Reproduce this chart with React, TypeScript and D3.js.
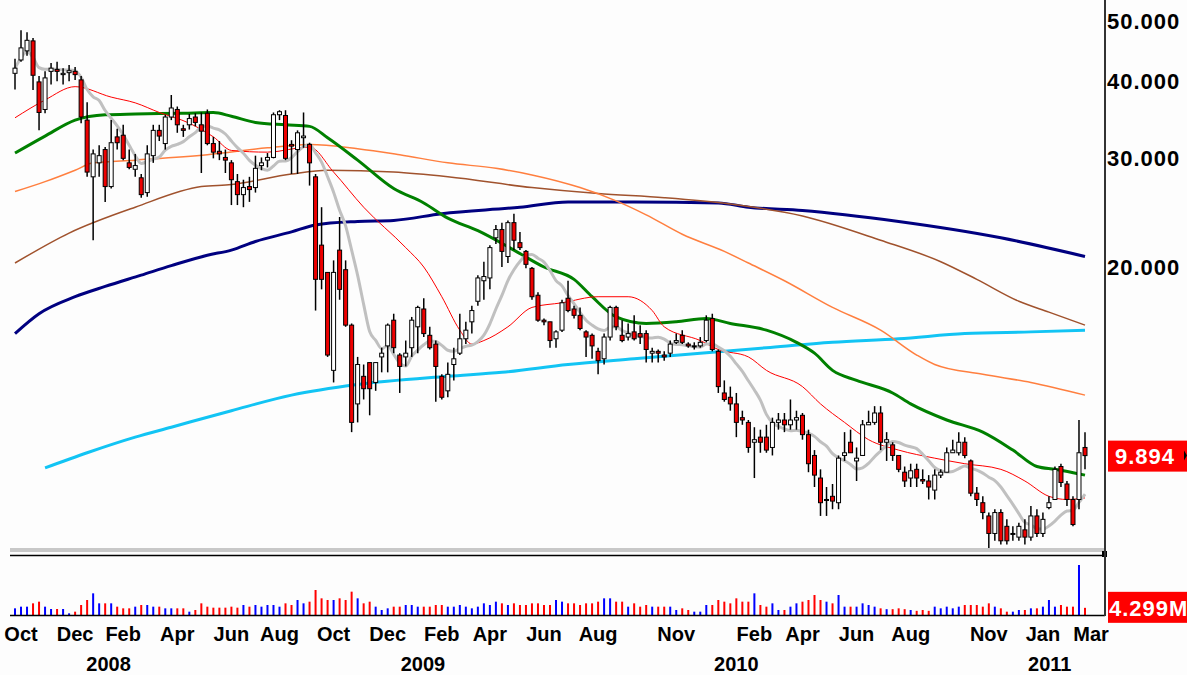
import * as d3 from 'd3'

const firstWeek = '2007-09-28'

// weekly OHLC
const opens = [
  41.2, 43.3, 44.8, 46.5, 39.9, 36.0, 41.5, 41.8, 41.0, 41.3,
  41.5, 40.2, 34.6, 28.0, 29.5, 31.0, 27.0, 32.5, 32.7, 29.5,
  28.8, 27.9, 26.4, 30.3, 33.3, 31.7, 35.0, 36.0, 33.5, 34.0,
  35.0, 34.0, 35.5, 31.7, 30.8, 30.1, 29.5, 27.5, 26.2, 27.0,
  26.9, 29.2, 29.8, 30.1, 35.3, 35.2, 31.6, 31.0, 32.4, 31.6,
  28.0, 21.7, 19.6, 13.6, 21.3, 19.8, 16.1, 12.0, 13.3, 14.0,
  13.0, 14.3, 14.9, 16.4, 14.4, 14.3, 14.8, 16.0, 17.1, 15.5,
  15.0, 13.3, 12.6, 13.9, 14.5, 15.3, 16.3, 17.6, 19.0, 19.2,
  22.3, 23.0, 20.8, 23.6, 21.9, 21.2, 19.9, 18.0, 16.4, 16.3,
  15.3, 15.8, 17.8, 17.1, 16.7, 15.7, 15.5, 14.6, 14.2, 15.4,
  17.2, 15.5, 15.4, 15.7, 15.6, 15.6, 14.5, 14.6, 14.4, 14.5,
  15.1, 15.5, 15.0, 14.9, 14.9, 15.2, 16.5, 14.6, 12.5, 12.3,
  12.0, 11.4, 11.2, 10.4, 10.6, 10.6, 10.2, 11.2, 11.3, 11.1,
  11.3, 11.5, 10.7, 9.9, 9.1, 8.4, 8.5, 8.3, 9.9, 10.4,
  9.7, 9.9, 11.1, 11.2, 11.6, 10.4, 10.3, 9.9, 9.3, 9.1,
  9.4, 9.05, 9.0, 8.7, 9.2, 9.3, 10.0, 10.0, 10.4, 9.7,
  8.6, 8.3, 7.9, 7.4, 8.0, 7.6, 7.4, 7.3, 7.5, 7.3,
  7.9, 7.4, 8.15, 8.4, 9.5, 8.9, 8.4, 8.4, 10.2,
]
const highs = [
  43.5, 48.4, 48.0, 47.0, 40.8, 41.5, 42.8, 43.0, 42.0, 42.5,
  42.2, 40.8, 37.0, 31.0, 31.5, 31.3, 34.6, 33.5, 34.0, 31.0,
  30.5, 28.3, 31.5, 34.0, 34.0, 35.3, 38.0, 36.4, 34.0, 35.4,
  35.5, 35.6, 36.0, 32.5, 32.0, 31.0, 29.8, 28.3, 27.7, 28.0,
  30.3, 30.1, 30.6, 35.6, 35.9, 35.9, 32.1, 33.3, 35.6, 31.8,
  28.3, 25.0, 19.6, 20.5, 24.1, 20.5, 16.2, 14.3, 13.9, 14.0,
  14.0, 14.8, 16.2, 16.8, 14.5, 15.2, 16.6, 17.3, 17.8, 16.0,
  15.2, 13.4, 14.0, 14.8, 16.8, 16.3, 17.3, 19.4, 20.4, 21.7,
  23.4, 23.6, 23.8, 24.4, 22.8, 21.3, 20.0, 18.2, 16.5, 16.3,
  15.8, 17.7, 19.0, 17.3, 17.2, 15.8, 15.6, 14.8, 15.6, 17.3,
  17.3, 16.4, 16.2, 16.7, 16.1, 15.8, 14.8, 14.7, 14.6, 15.2,
  15.6, 15.8, 15.1, 15.1, 15.4, 16.7, 16.8, 14.7, 13.1, 12.8,
  12.5, 11.7, 11.3, 11.0, 10.9, 11.1, 11.4, 11.6, 11.6, 12.2,
  11.7, 11.6, 10.9, 10.1, 9.4, 8.8, 8.9, 9.9, 10.8, 10.9,
  10.2, 11.3, 11.7, 11.9, 11.9, 10.8, 10.4, 9.9, 9.5, 9.6,
  9.6, 9.4, 9.2, 9.4, 9.4, 10.2, 10.5, 10.8, 10.6, 9.75,
  8.8, 8.5, 8.0, 8.1, 8.1, 7.8, 7.6, 7.7, 7.8, 8.2,
  8.1, 8.0, 8.5, 9.5, 9.6, 9.0, 8.5, 11.3, 10.8,
]
const lows = [
  38.8, 43.0, 44.0, 38.7, 33.3, 35.5, 39.5, 40.0, 39.5, 40.0,
  40.2, 34.2, 28.0, 22.1, 28.0, 25.5, 26.8, 31.0, 29.8, 28.8,
  28.0, 25.9, 26.0, 29.5, 32.0, 31.0, 34.6, 33.0, 32.5, 33.4,
  33.8, 28.4, 31.5, 30.0, 29.8, 28.4, 25.2, 25.2, 25.0, 25.5,
  26.4, 28.7, 29.0, 30.0, 34.6, 29.8, 28.3, 28.3, 31.2, 27.1,
  17.0, 18.4, 14.3, 13.0, 17.7, 16.0, 10.8, 11.2, 12.2, 11.5,
  12.6, 13.5, 13.5, 14.5, 12.5, 13.8, 14.3, 14.5, 15.4, 14.7,
  12.1, 12.2, 12.3, 13.1, 14.4, 15.0, 15.6, 17.3, 17.7, 18.4,
  21.8, 20.0, 20.3, 21.3, 21.3, 19.9, 17.7, 16.3, 16.1, 14.8,
  14.8, 15.7, 16.9, 16.5, 15.8, 14.3, 14.2, 13.4, 13.9, 15.2,
  15.8, 15.1, 15.2, 15.2, 15.0, 14.0, 14.0, 14.0, 14.1, 14.3,
  15.0, 15.0, 14.8, 14.7, 14.8, 15.1, 14.6, 12.5, 12.1, 11.7,
  10.6, 11.1, 10.0, 9.1, 10.0, 10.0, 9.9, 10.9, 10.8, 10.9,
  10.9, 10.5, 9.3, 8.8, 7.9, 7.9, 8.1, 8.1, 9.7, 10.0,
  9.0, 9.9, 11.1, 11.1, 10.1, 9.7, 9.7, 9.3, 8.8, 8.8,
  8.8, 8.9, 8.4, 8.4, 9.1, 9.3, 10.0, 9.9, 9.8, 8.5,
  8.2, 7.8, 7.0, 7.2, 7.1, 7.1, 7.2, 7.2, 7.1, 7.2,
  7.3, 7.3, 8.1, 8.4, 8.8, 8.2, 7.6, 8.1, 9.4,
]
const closes = [
  42.0, 45.3, 46.6, 40.9, 35.6, 40.5, 42.0, 41.5, 41.2, 41.6,
  41.0, 35.0, 28.5, 30.5, 30.3, 27.0, 31.8, 31.8, 30.0, 29.0,
  29.2, 26.2, 30.5, 33.3, 32.6, 35.0, 36.2, 34.0, 33.3, 34.8,
  34.3, 33.2, 31.7, 30.7, 30.5, 29.8, 27.7, 26.2, 26.9, 26.7,
  28.9, 29.5, 30.1, 35.3, 35.7, 30.0, 31.4, 33.0, 32.6, 29.5,
  19.1, 19.1, 14.4, 19.6, 18.4, 16.1, 11.2, 13.9, 12.7, 12.7,
  14.0, 14.5, 16.1, 14.8, 13.8, 14.5, 16.4, 17.2, 15.6, 14.8,
  13.8, 12.3, 13.4, 14.2, 15.3, 15.8, 17.0, 19.2, 19.3, 21.5,
  23.0, 21.2, 23.6, 22.1, 21.5, 20.2, 17.9, 16.4, 16.3, 15.2,
  15.7, 17.5, 17.0, 16.7, 15.9, 15.4, 14.9, 14.1, 15.4, 17.2,
  16.0, 15.2, 15.6, 15.3, 15.4, 14.7, 14.6, 14.5, 14.3, 15.0,
  15.2, 15.1, 14.9, 14.9, 15.1, 16.4, 14.7, 12.8, 12.2, 12.0,
  11.2, 11.3, 10.2, 10.5, 10.4, 10.1, 11.2, 11.3, 11.1, 11.3,
  11.4, 10.7, 9.6, 9.2, 8.3, 8.4, 8.35, 9.8, 10.0, 10.0,
  9.8, 11.1, 11.2, 11.6, 10.4, 10.5, 9.9, 9.4, 9.0, 9.35,
  9.1, 9.0, 8.8, 9.2, 9.3, 10.0, 10.1, 10.4, 9.9, 8.6,
  8.4, 8.0, 7.4, 8.0, 7.2, 7.2, 7.4, 7.6, 7.3, 7.9,
  7.4, 7.8, 8.3, 9.4, 8.95, 8.4, 7.65, 10.0, 9.894,
]
// volume, millions
const volumes = [
  4, 5, 5, 7, 8, 5, 3.6, 3.6, 3.6, 1,
  2, 6, 9, 13, 7, 7, 7, 5, 4, 4,
  5, 6, 6, 5, 5, 4, 4, 4, 4, 2,
  3, 7, 5, 4.4, 4.4, 4.4, 5, 4.4, 6, 5,
  6, 5, 6, 6, 5, 7, 6, 9, 7, 8,
  15, 10, 9, 9, 10, 9, 14, 10, 7, 8,
  5, 3, 4, 5, 5, 6, 6, 5, 5, 5,
  6, 6, 5, 5, 6, 5, 4, 5, 7, 6,
  8, 7, 6, 7, 6, 6, 7, 7, 6, 6,
  9, 8, 7, 7, 6, 7, 7, 8, 10, 10,
  8, 8, 5, 7, 5, 6, 5, 5, 5, 5,
  3, 4, 3, 2, 2, 6, 6, 9, 8, 7,
  10, 8, 8, 13, 6, 5, 7, 3, 3, 5,
  7, 8, 9, 12, 9, 8, 7, 12, 5, 5,
  5, 7, 6, 5, 4, 3.5, 3.5, 4, 3.5, 3,
  2.5, 3, 2.5, 5, 4, 5, 4, 5, 6, 6,
  6, 5, 7, 5, 4, 2, 2, 3, 3, 4,
  4, 5, 9, 5, 6, 5, 5, 30, 4.299,
]

// moving averages as [week index, value]
const maRed = [
  [0, 34.9], [5, 37.3], [10, 39.2], [16, 37.7], [20, 36.9], [24, 35.6], [29, 34.2], [33, 32.5],
  [36, 30.9], [42, 30.7], [49, 31.3], [53, 28.5], [58, 25.0], [65, 21.5], [68, 20.0], [71, 17.9],
  [74, 15.8], [76, 15.0], [78, 15.2], [82, 16.0], [86, 17.2], [91, 17.5], [97, 17.9], [102, 17.9],
  [106, 17.0], [108, 16.0], [114, 15.2], [117, 14.7], [122, 14.3], [125, 13.6], [131, 12.8],
  [134, 12.0], [138, 11.2], [142, 10.5], [147, 10.1], [153, 9.8], [158, 9.6], [164, 9.4],
  [168, 9.0], [172, 8.5], [175, 8.4], [178, 8.45],
]
const maGreen = [
  [0, 30.6], [5, 32.6], [10, 34.6], [15, 35.3], [20, 35.4], [28, 35.5], [33, 35.6], [36, 35.1],
  [40, 34.3], [45, 34.0], [49, 33.8], [52, 32.4], [57, 29.8], [63, 26.8], [68, 25.4], [72, 24.0],
  [77, 22.9], [83, 21.3], [88, 20.0], [93, 19.1], [96, 17.9], [100, 16.6], [105, 16.2],
  [110, 16.3], [115, 16.5], [119, 16.2], [125, 15.8], [130, 15.1], [133, 14.5], [136, 13.6],
  [140, 13.1], [146, 12.5], [149, 12.0], [155, 11.3], [161, 10.8], [166, 10.1], [170, 9.5],
  [173, 9.4], [178, 9.2],
]
const maOrange = [
  [0, 26.5], [5, 27.5], [10, 28.7], [13, 29.5], [20, 29.8], [32, 30.4], [42, 31.2], [49, 31.6],
  [57, 31.1], [64, 30.4], [72, 29.5], [80, 28.9], [86, 28.2], [94, 26.9], [100, 25.6],
  [105, 24.3], [111, 22.6], [118, 21.2], [122, 20.3], [128, 19.0], [136, 17.2], [144, 15.8],
  [150, 14.4], [153, 13.9], [161, 13.4], [169, 13.0], [178, 12.4],
]
const maBrown = [
  [0, 20.3], [9, 22.7], [20, 25.0], [31, 27.0], [36, 27.2], [46, 28.3], [52, 28.7], [63, 28.5],
  [72, 28.0], [86, 26.9], [97, 26.3], [108, 25.9], [119, 25.3], [131, 24.2], [144, 22.1],
  [154, 20.4], [160, 19.1], [167, 17.6], [172, 16.9], [178, 16.1],
]
const maNavy = [
  [0, 15.6], [4, 16.8], [10, 17.9], [15, 18.6], [21, 19.4], [26, 20.1], [32, 20.9], [36, 21.3],
  [40, 22.0], [46, 22.8], [50, 23.4], [57, 23.7], [63, 23.8], [71, 24.4], [84, 25.0], [92, 25.5],
  [103, 25.5], [117, 25.4], [122, 25.0], [131, 24.7], [147, 23.7], [164, 22.3], [178, 20.8],
]
const maCyan = [
  [5, 9.45], [12, 10.0], [20, 10.6], [26, 11.0], [36, 11.7], [46, 12.4], [57, 12.9], [72, 13.3],
  [81, 13.5], [92, 13.9], [103, 14.2], [114, 14.5], [125, 14.8], [136, 15.1], [147, 15.3],
  [158, 15.6], [169, 15.7], [178, 15.8],
]

const monthTicks = [
  '2007-10-05', '2007-12-07', '2008-02-01', '2008-04-04', '2008-06-06', '2008-08-01',
  '2008-10-03', '2008-12-05', '2009-02-06', '2009-04-03', '2009-06-05', '2009-08-07',
  '2009-11-06', '2010-02-05', '2010-04-02', '2010-06-04', '2010-08-06', '2010-11-05',
  '2011-01-07', '2011-03-04',
]
const yearTicks = ['2008-01-15', '2009-01-15', '2010-01-15', '2011-01-15']
const priceTicks = [20, 30, 40, 50]
const lastPrice = 9.894
const lastVolume = '4.299M'

const FONT = '"Liberation Sans", Arial, sans-serif'

export default function App() {
  const n = closes.length
  const parse = d3.timeParse('%Y-%m-%d')
  const start = parse(firstWeek) as Date
  const end = d3.timeDay.offset(start, 7 * (n - 1))

  const x = d3.scaleLinear().domain([0, n - 1]).range([15, 1085])
  const xt = d3.scaleTime().domain([start, end]).range([15, 1085])
  const y = d3.scaleLog().domain([20, 50]).range([267, 267 - 268 * Math.log(2.5)])
  const yv = d3.scaleLinear().domain([0, 33]).range([615, 560])

  // grey: 10 week average of closes
  const sma = closes.map((_, i) => d3.mean(closes.slice(Math.max(0, i - 9), i + 1)) as number)

  const ma = d3
    .line<number[]>()
    .x((d) => x(d[0]))
    .y((d) => y(d[1]))
    .curve(d3.curveMonotoneX)
  const greyLine = d3
    .line<number>()
    .x((d, i) => x(i))
    .y((d) => y(d))
    .curve(d3.curveMonotoneX)

  const fmt = d3.timeFormat('%b')

  return (
    <svg width={1187} height={675} style={{ display: 'block', position: 'absolute', left: 0, top: 0, background: '#fdfdfd' }}>
      <rect x={0} y={0} width={1187} height={675} fill="#fdfdfd" />
      {/* moving averages */}
      <g fill="none" strokeLinejoin="round">
        <path d={ma(maCyan) ?? ''} stroke="#12c4f4" strokeWidth={3} />
        <path d={ma(maNavy) ?? ''} stroke="#000080" strokeWidth={3} />
        <path d={ma(maBrown) ?? ''} stroke="#a0522d" strokeWidth={1.5} />
        <path d={ma(maOrange) ?? ''} stroke="#ff7f3f" strokeWidth={1.5} />
        <path d={ma(maGreen) ?? ''} stroke="#008000" strokeWidth={3} />
        <path d={ma(maRed) ?? ''} stroke="#ff0000" strokeWidth={1} />
        <path d={greyLine(sma) ?? ''} stroke="#c0c0c0" strokeWidth={3} />
      </g>
      {/* candles */}
      <g>
        {closes.map((c, i) => {
          const o = opens[i]
          const up = c >= o
          const cx = x(i)
          const top = y(Math.max(o, c))
          const bot = y(Math.min(o, c))
          return (
            <g key={i}>
              <line x1={cx} x2={cx} y1={y(highs[i])} y2={y(lows[i])} stroke="#000" strokeWidth={1.5} />
              <rect
                x={cx - 2}
                y={top}
                width={4}
                height={Math.max(1, bot - top)}
                fill={up ? '#ffffff' : '#ee0000'}
                stroke="#000"
                strokeWidth={1}
              />
            </g>
          )
        })}
      </g>
      {/* pane separator */}
      <rect x={10} y={548} width={1095} height={4} fill="#c8c8c8" />
      <line x1={10} x2={1105} y1={555.5} y2={555.5} stroke="#000" strokeWidth={1.5} />
      <rect x={1102} y={551} width={5} height={6} fill="#000" />
      {/* volume */}
      <g>
        {volumes.map((v, i) => (
          <rect
            key={i}
            x={x(i) - 1}
            y={yv(v)}
            width={2}
            height={615 - yv(v)}
            fill={closes[i] >= opens[i] ? '#0000ff' : '#ff0000'}
          />
        ))}
      </g>
      <line x1={10} x2={1105} y1={615.5} y2={615.5} stroke="#000" strokeWidth={1.5} />
      {/* right axis */}
      <line x1={1105} x2={1105} y1={0} y2={616} stroke="#333" strokeWidth={2} />
      <g fontFamily={FONT} fontWeight="bold" fontSize={22} fill="#000">
        {priceTicks.map((p) => (
          <text key={p} x={1107} y={y(p)} dy="0.36em" letterSpacing={1}>
            {d3.format('.3f')(p)}
          </text>
        ))}
      </g>
      <rect x={1108} y={y(lastPrice) - 15} width={79} height={31} fill="#ff0000" />
      <path d={`M1184,${y(lastPrice) - 5}L1187,${y(lastPrice)}L1184,${y(lastPrice) + 5}Z`} fill="#000" />
      <text x={1115} y={y(lastPrice)} dy="0.36em" fontFamily={FONT} fontWeight="bold" fontSize={22} fill="#fff" letterSpacing={1}>
        {d3.format('.3f')(lastPrice)}
      </text>
      <rect x={1108} y={yv(4.299) - 16} width={79} height={31} fill="#ff0000" />
      <text x={1109} y={yv(4.299)} dy="0.36em" fontFamily={FONT} fontWeight="bold" fontSize={22} fill="#fff" letterSpacing={1}>
        {lastVolume}
      </text>
      {/* time axis */}
      <g fontFamily={FONT} fontWeight="bold" fontSize={20} fill="#000" textAnchor="middle">
        {monthTicks.map((m) => {
          const d = parse(m) as Date
          return (
            <text key={m} x={xt(d)} y={641}>
              {fmt(d)}
            </text>
          )
        })}
        {yearTicks.map((m) => {
          const d = parse(m) as Date
          return (
            <text key={m} x={xt(d)} y={671}>
              {d.getFullYear()}
            </text>
          )
        })}
      </g>
    </svg>
  )
}
